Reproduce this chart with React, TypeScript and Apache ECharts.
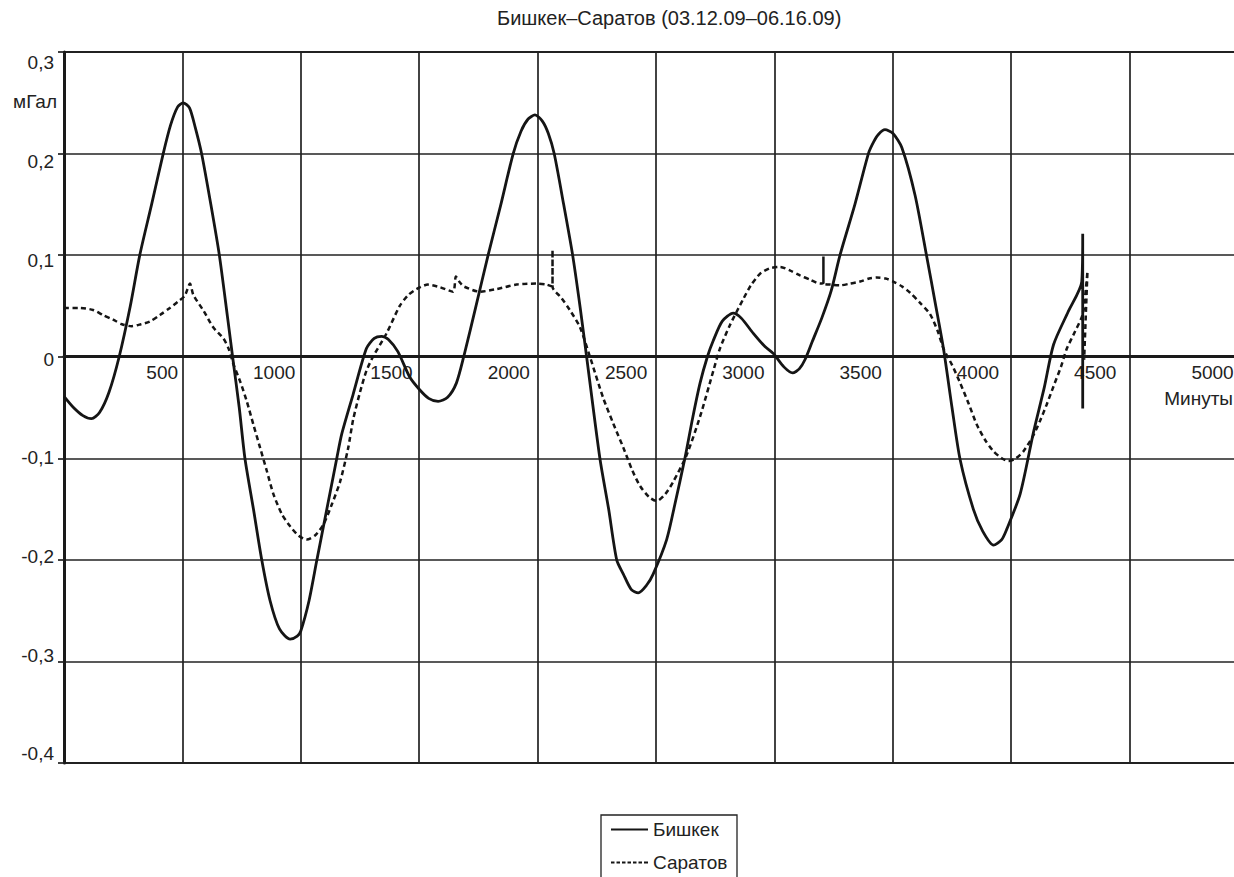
import React, { useEffect, useRef } from "react";
import * as echarts from "echarts";

const chartTitle = "Бишкек–Саратов (03.12.09–06.16.09)";
const seriesNames = ["Бишкек", "Саратов"];
const yUnit = "мГал";
const xUnit = "Минуты";

const xTickValues = [500, 1000, 1500, 2000, 2500, 3000, 3500, 4000, 4500, 5000];
const yTickValues = [-0.4, -0.3, -0.2, -0.1, 0, 0.1, 0.2, 0.3];

const bishkekX = [
  0, 40, 80, 116, 150, 190, 233, 280, 320, 370, 419, 450, 480, 503, 530, 555, 581, 620, 656, 690,
  712, 740, 764, 800, 835, 870, 910, 955, 985, 1000, 1035, 1068, 1110, 1152, 1173, 1221, 1277, 1310,
  1341, 1370, 1410, 1460, 1500, 1540, 1580, 1620, 1657, 1688, 1740, 1791, 1845, 1897, 1930, 1960,
  1989, 2020, 2045, 2070, 2110, 2148, 2180, 2207, 2263, 2300, 2334, 2362, 2395, 2425, 2460, 2488,
  2545, 2580, 2622, 2655, 2686, 2717, 2742, 2780, 2826, 2860, 2911, 2960, 2996, 3040, 3077, 3105,
  3129, 3160, 3200, 3240, 3277, 3340, 3397, 3418, 3440, 3467, 3500, 3538, 3594, 3643, 3680, 3714,
  3750, 3784, 3840, 3880, 3925, 3960, 3981, 4038, 4094, 4140, 4179, 4240, 4298, 4302, 4302,
];
const bishkekY = [
  -0.039, -0.05, -0.058, -0.061, -0.055, -0.035, 0.0, 0.05, 0.1, 0.15, 0.2, 0.228, 0.246, 0.25,
  0.245, 0.225, 0.2, 0.15, 0.1, 0.04, 0.0, -0.05, -0.1, -0.15, -0.2, -0.24, -0.268, -0.278, -0.275,
  -0.27, -0.24, -0.2, -0.15, -0.1, -0.076, -0.037, 0.008, 0.018, 0.02, 0.017, 0.005, -0.02, -0.032,
  -0.041, -0.044, -0.04, -0.026, 0.0, 0.05, 0.1, 0.15, 0.2, 0.222, 0.234, 0.238, 0.232, 0.22, 0.2,
  0.15, 0.1, 0.048, 0.0, -0.1, -0.15, -0.2, -0.214, -0.229, -0.2325, -0.225, -0.214, -0.18, -0.145,
  -0.1, -0.06, -0.026, 0.0, 0.016, 0.035, 0.043, 0.038, 0.023, 0.01, 0.003, -0.01, -0.016, -0.012,
  -0.003, 0.015, 0.038, 0.065, 0.1, 0.15, 0.2, 0.211, 0.219, 0.2235, 0.22, 0.206, 0.159, 0.099,
  0.052, 0.008, -0.05, -0.101, -0.15, -0.172, -0.1855, -0.18, -0.17, -0.135, -0.0745, -0.03, 0.012,
  0.044, 0.074, 0.121, -0.051,
];

const saratovX = [
  0, 66, 123, 165, 207, 245, 285, 325, 362, 405, 447, 480, 510, 532, 546, 590, 630, 673, 695, 715,
  745, 772, 800, 828, 856, 884, 920, 955, 990, 1025, 1060, 1096, 1130, 1166, 1200, 1221, 1250, 1277,
  1305, 1362, 1418, 1455, 1489, 1537, 1587, 1643, 1655, 1672, 1690, 1756, 1827, 1911, 1996, 2038,
  2063, 2063, 2063, 2100, 2136, 2179, 2221, 2277, 2320, 2362, 2400, 2432, 2470, 2503, 2540, 2573,
  2629, 2686, 2742, 2770, 2812, 2869, 2900, 2939, 2980, 3024, 3065, 3108, 3150, 3193, 3207, 3207,
  3207, 3240, 3277, 3320, 3362, 3400, 3432, 3470, 3502, 3540, 3573, 3615, 3657, 3690, 3714, 3750,
  3784, 3820, 3855, 3890, 3925, 3960, 3988, 4020, 4052, 4090, 4122, 4150, 4179, 4210, 4235, 4270,
  4302, 4322, 4308,
];
const saratovY = [
  0.048, 0.048, 0.046, 0.041, 0.0365, 0.032, 0.03, 0.032, 0.0346, 0.041, 0.048, 0.054, 0.06, 0.072,
  0.061, 0.045, 0.029, 0.018, 0.008, -0.007, -0.025, -0.044, -0.067, -0.0895, -0.112, -0.135,
  -0.155, -0.167, -0.176, -0.18, -0.176, -0.165, -0.146, -0.123, -0.09, -0.062, -0.035, -0.014, 0.0,
  0.023, 0.05, 0.061, 0.0666, 0.071, 0.0685, 0.064, 0.079, 0.073, 0.069, 0.064, 0.0666, 0.071,
  0.072, 0.071, 0.069, 0.105, 0.069, 0.058, 0.046, 0.029, 0.0, -0.0406, -0.066, -0.0895, -0.112,
  -0.127, -0.138, -0.142, -0.135, -0.123, -0.097, -0.059, -0.014, 0.008, 0.031, 0.057, 0.07,
  0.0816, 0.087, 0.0884, 0.085, 0.08, 0.076, 0.072, 0.0725, 0.0987, 0.0725, 0.071, 0.0703, 0.072,
  0.074, 0.077, 0.078, 0.077, 0.074, 0.069, 0.063, 0.053, 0.042, 0.025, 0.008, -0.008, -0.0256,
  -0.046, -0.067, -0.082, -0.093, -0.1, -0.1027, -0.1, -0.093, -0.079, -0.063, -0.047, -0.029,
  -0.01, 0.008, 0.025, 0.042, 0.084, -0.003,
];

const zip = (xs: number[], ys: number[]) => xs.map((x, i) => [x, ys[i]]);

const solidIcon = "path://M0,0h37v2h-37z";
const dashedIcon =
  "path://M0,0h3.5v2h-3.5z M5.5,0h3.5v2h-3.5z M11,0h3.5v2h-3.5z M16.5,0h3.5v2h-3.5z M22,0h3.5v2h-3.5z M27.5,0h3.5v2h-3.5z M33,0h4v2h-4z";

export default function App() {
  const ref = useRef<HTMLDivElement>(null);
  useEffect(() => {
    if (!ref.current) return;
    const chart = echarts.init(ref.current, null, { renderer: "svg" });
    const font = "'Liberation Sans', Arial, sans-serif";
    const ink = "#1a1a1a";
    const gridInk = "#222";
    const fmt = (v: number) => String(Math.round(v * 10) / 10).replace(".", ",");
    const gridBox = { left: 64, top: 52, right: 0, bottom: 114 };
    chart.setOption({
      animation: false,
      textStyle: { fontFamily: font },
      title: {
        text: chartTitle,
        left: 492,
        top: 3,
        textStyle: { fontSize: 20, fontWeight: "normal", color: "#222", fontFamily: font },
      },
      grid: [
        { ...gridBox, show: true, borderColor: gridInk, borderWidth: 2, backgroundColor: "transparent" },
        { ...gridBox, show: false },
      ],
      legend: {
        orient: "vertical",
        left: 601,
        top: 815,
        padding: [5, 13, 0, 10],
        itemGap: 14,
        itemWidth: 37,
        itemHeight: 2,
        textStyle: { fontSize: 19, color: "#222", fontFamily: font },
        data: [
          { name: seriesNames[0], icon: solidIcon },
          { name: seriesNames[1], icon: dashedIcon },
        ],
      },
      xAxis: [
        {
          type: "value",
          gridIndex: 0,
          min: 0,
          max: 5000,
          interval: 500,
          axisLine: { onZero: true, onZeroAxisIndex: 0, lineStyle: { color: ink, width: 3 } },
          axisTick: { show: false },
          axisLabel: { show: false },
          splitLine: { show: true, lineStyle: { color: gridInk, width: 1.7 } },
        },
        {
          type: "value",
          gridIndex: 1,
          min: 5.3,
          max: 5052.6,
          position: "bottom",
          offset: -404,
          axisLine: { show: false, onZero: false },
          axisTick: { show: false },
          splitLine: { show: false },
          axisLabel: {
            customValues: xTickValues,
            align: "right",
            margin: 4,
            padding: [0, 2, 0, 0],
            fontSize: 19,
            color: "#222",
            fontFamily: font,
            formatter: (v: number) => String(v),
          },
        },
      ],
      yAxis: [
        {
          type: "value",
          gridIndex: 0,
          min: -0.4,
          max: 0.3,
          interval: 0.1,
          position: "left",
          axisLine: { show: true, onZero: false, lineStyle: { color: ink, width: 3 } },
          axisTick: { show: true, length: 6, lineStyle: { color: gridInk, width: 1.7 } },
          axisLabel: { show: false },
          splitLine: { show: true, lineStyle: { color: gridInk, width: 1.7 } },
        },
        {
          type: "value",
          gridIndex: 1,
          min: -0.40912,
          max: 0.31114,
          position: "left",
          axisLine: { show: false, onZero: false },
          axisTick: { show: false },
          splitLine: { show: false },
          axisLabel: {
            customValues: yTickValues,
            margin: 10,
            fontSize: 19,
            color: "#222",
            fontFamily: font,
            formatter: fmt,
          },
        },
      ],
      graphic: [
        {
          type: "rect",
          shape: { x: 601, y: 815, width: 136, height: 100 },
          style: { fill: "none", stroke: "#222", lineWidth: 1.3 },
          silent: true,
        },
        {
          type: "text",
          x: 57,
          y: 101,
          style: { text: yUnit, fontSize: 19, fill: "#222", fontFamily: font, align: "right", verticalAlign: "middle" },
        },
        {
          type: "text",
          x: 1233,
          y: 398,
          style: { text: xUnit, fontSize: 19, fill: "#222", fontFamily: font, align: "right", verticalAlign: "middle" },
        },
      ],
      series: [
        {
          name: seriesNames[0],
          type: "line",
          xAxisIndex: 0,
          yAxisIndex: 0,
          data: zip(bishkekX, bishkekY),
          symbol: "none",
          showSymbol: false,
          smooth: 0.25,
          lineStyle: { color: "#151515", width: 2.8, type: "solid" },
          itemStyle: { color: "#151515" },
        },
        {
          name: seriesNames[1],
          type: "line",
          xAxisIndex: 0,
          yAxisIndex: 0,
          data: zip(saratovX, saratovY),
          symbol: "none",
          showSymbol: false,
          smooth: 0.25,
          lineStyle: { color: "#151515", width: 2.5, type: [5, 3.5] },
          itemStyle: { color: "#151515" },
        },
      ],
    });
    return () => chart.dispose();
  }, []);
  return (
    <div
      style={{ position: "fixed", left: 0, top: 0, width: 1234, height: 877, overflow: "hidden", background: "#fff" }}
    >
      <div ref={ref} style={{ position: "absolute", left: 0, top: 0, width: 1248, height: 877 }} />
    </div>
  );
}
